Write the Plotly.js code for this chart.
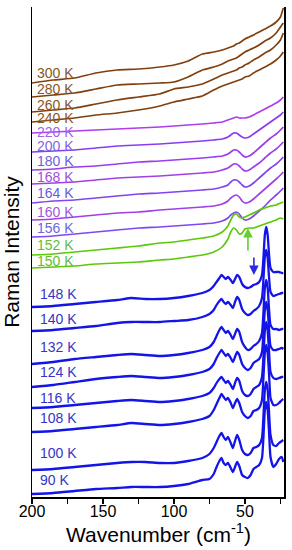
<!DOCTYPE html>
<html><head><meta charset="utf-8">
<script src="https://cdn.plot.ly/plotly-3.0.1.min.js"></script>
<style>html,body{margin:0;padding:0;background:#fff}#chart{width:292px;height:550px}</style>
</head><body><div id="chart"></div>
<script>
// ---------- DATA ----------
const waveBroad = [200,185,170,155,140,125,110,100,90,80,72,66,62,60,58,56,54,52,50,47,44,40,36,32,28,25,23];
const waveBlue = [200,185,170,155,140,130,120,110,100,90,80,75,72,70,68,66.5,65,63.5,62,60,58.5,57,55.5,54,52,50,48,46,44,42,40,38,37,36,35,34,33,32,30,28,26,24,23];
const temps = ['300 K','280 K','260 K','240 K','220 K','200 K','180 K','168 K','164 K','160 K','156 K','152 K','150 K','148 K','140 K','132 K','124 K','116 K','108 K','100 K','90 K'];

const i300 = [414,417,419,424,427,428,430,432,436,443,445,447,449,450,451,453,454,456,458,460,462,465,468,471,475,480,489];
const i280 = [400,402,404,408,412,413,414,415,420,427,430,433,436,437,438,439,441,443,445,447,449,452,456,459,464,470,474];
const i260 = [385,387,389,393,397,400,403,408,410,413,418,422,424,425,426,427,429,430,432,434,437,440,444,447,452,457,464];
const i240 = [375,377,379,382,384,387,391,395,398,401,407,411,413,414,415,416,417,418,420,421,424,427,430,433,437,441,445];
const i220 = [364,365,366,367,368,369,370,371,372,373,374,375,377,378,379,380,379,379,379,380,382,385,388,391,394,397,400];
const i200 = [345,346,347,349,351,352,353,354,355,356,357,358,360,362,364,364,362,360,359,360,363,367,371,375,379,382,385];
const i180 = [327,328,330,331,333,335,336,337,338,339,340,341,343,345,347,347,345,342,340,341,344,349,354,359,363,367,370];
const i168 = [313,314,315,317,319,320,321,322,323,324,325,327,329,331,333,333,331,328,326,327,330,334,339,344,348,352,355];
const i164 = [294,296,297,299,301,303,304,305,306,307,308,310,312,315,317,317,315,312,310,311,314,319,324,329,333,337,340];
const i160 = [277,278,280,282,284,285,287,288,289,290,291,293,296,299,301,302,300,296,294,295,298,303,308,313,318,322,325];
const i156 = [260,261,263,265,267,269,270,271,272,273,274,276,279,282,284,285,283,279,277,278,281,286,291,297,302,306,309];
const i152 = [242,243,245,247,249,251,254,255,257,259,261,265,271,277,282,283,280,279,280,282,284,287,289,291,292,294,295];
const i150 = [229,230,231,233,234,235,237,238,240,242,245,250,258,265,269,267,263,264,268,269,269,271,273,275,277,279,278];

const i148 = [190,191,193,195,197,199,198,198,199,201,204,207,211,215,219,222,220,218,220,217,214,218,222,220,213,210,209,210,212,213,215,222,239,262,270,262,242,229,225,225,225,224,224];
const i140 = [166,167,169,171,174,175,175,175,176,177,180,183,187,192,196,198,195,193,195,192,189,195,200,197,188,184,182,183,186,188,191,199,217,240,247,239,219,205,201,202,203,204,204];
const i132 = [133,135,138,140,142,143,142,141,142,144,147,150,155,161,167,170,167,164,166,162,158,163,168,165,155,150,147,148,151,153,156,164,184,209,217,209,187,172,168,168,167,168,168];
const i124 = [110,112,115,118,120,121,120,119,120,122,125,128,133,139,144,147,144,141,143,139,135,140,145,142,133,129,127,129,134,136,138,145,164,187,195,187,167,151,147,147,148,149,148];
const i116 = [89,90,92,94,96,97,96,95,96,98,101,104,109,114,118,120,117,114,116,112,108,114,119,116,106,102,101,103,108,110,112,120,140,166,175,166,145,125,119,118,119,120,120];
const i108 = [65,66,68,70,72,74,73,72,73,75,78,81,87,93,99,103,100,97,99,94,89,94,98,94,85,81,79,81,86,87,89,97,119,144,152,144,122,99,92,92,94,97,98];
const i100 = [27,28,30,32,34,35,35,34,34,36,39,43,49,55,61,64,60,57,60,54,49,56,62,57,47,43,42,44,49,50,52,59,80,107,115,107,84,62,52,51,54,56,57];
const i90  = [3,4,6,8,9,10,10,10,11,13,17,18,23,30,36,39,34,32,34,29,25,30,35,31,22,20,19,22,28,30,32,39,59,87,95,87,64,40,30,33,38,40,35];

// ---------- STYLE / PLACEMENT ----------
const curves = [i300,i280,i260,i240,i220,i200,i180,i168,i164,i160,i156,i152,i150,i148,i140,i132,i124,i116,i108,i100,i90];
const lineColor = ['#80400f','#80400f','#80400f','#80400f',
  '#b03cec','#8a3cf4','#9a3cf0','#a040e8','#8045f0','#a040e8','#8048f0',
  '#5cc80a','#5cc80a',
  '#1414e8','#1414e8','#1414e8','#1414e8','#1414e8','#1414e8','#1414e8','#1414e8'];
const labelColor = ['#8a5522','#8a5522','#8a5522','#8a5522',
  '#a064e8','#8064e0','#7060d8','#a050d8','#6a5cd8','#a058d8','#6a68d8',
  '#66bb33','#66bb33',
  '#3535c8','#3535c8','#3535c8','#3535c8','#3535c8','#3535c8','#3535c8','#3535c8'];
const labelY = [424,408,392,379,365,351,336,320,304,285,269,252,236,203,178,150,125,99,79,44,17];

const traces = curves.map((c, k) => ({
  type: 'scatter', mode: 'lines',
  x: c.length === waveBlue.length ? waveBlue : waveBroad,
  y: c, name: temps[k], showlegend: false, hoverinfo: 'skip',
  line: {color: lineColor[k], width: k >= 13 ? 2.3 : 1.7, shape: 'spline', smoothing: 0.5}
}));

const annotations = temps.map((t, k) => ({
  xref: 'x', yref: 'y', x: k >= 13 ? 195.5 : 198, y: labelY[k],
  xanchor: 'left', yanchor: 'middle', text: t, showarrow: false,
  font: {family: 'Arial, Liberation Sans, sans-serif', size: 14, color: labelColor[k]}
}));
annotations.push({xref:'x', yref:'y', x: 47.9, y: 269, axref:'x', ayref:'y', ax: 47.9, ay: 238,
  text: ' ', showarrow: true, arrowhead: 2, arrowsize: 1.2, arrowwidth: 1.6, arrowcolor: '#66cc33'});
annotations.push({xref:'x', yref:'y', x: 43.7, y: 222, axref:'x', ayref:'y', ax: 43.7, ay: 248,
  text: ' ', showarrow: true, arrowhead: 2, arrowsize: 1.2, arrowwidth: 1.6, arrowcolor: '#2a2ae0'});
// x-axis title placed as paper annotation for exact vertical position
annotations.push({xref:'paper', yref:'paper', x: 0.5, y: -0.074, xanchor:'center', yanchor:'middle',
  text: 'Wavenumber (cm<sup>-1</sup>)', showarrow: false,
  font: {family: 'Arial, Liberation Sans, sans-serif', size: 21, color: '#000'}});

const tickv = [200,175,150,125,100,75,50,25];
const tickt = ['200','','150','','100','','50',''];

const layout = {
  width: 292, height: 550,
  margin: {l: 32, r: 8, t: 7, b: 53},
  paper_bgcolor: '#fff', plot_bgcolor: '#fff',
  font: {family: 'Arial, Liberation Sans, sans-serif', color: '#000'},
  showlegend: false,
  xaxis: {
    range: [200, 22.5], tickvals: tickv, ticktext: tickt,
    ticks: 'outside', ticklen: 5, tickwidth: 1.5, tickcolor: '#000',
    ticklabelstandoff: -6,
    showline: true, linewidth: 1.5, linecolor: '#000',
    showgrid: false, zeroline: false, automargin: false,
    tickfont: {size: 16, color: '#000'}
  },
  xaxis2: {
    overlaying: 'x', matches: 'x', side: 'top', anchor: 'y',
    tickvals: tickv, showticklabels: false,
    ticks: 'inside', ticklen: 7, tickwidth: 1.5, tickcolor: '#000',
    showline: true, linewidth: 1.5, linecolor: '#000',
    showgrid: false, zeroline: false, automargin: false
  },
  yaxis: {
    range: [0, 490], showticklabels: false, ticks: '',
    showline: true, mirror: true, linewidth: 1.5, linecolor: '#000',
    showgrid: false, zeroline: false, automargin: false,
    title: {text: 'Raman Intensity', font: {size: 21, color: '#000'}, standoff: 6}
  },
  annotations: annotations
};

Plotly.newPlot('chart', traces, layout, {staticPlot: true, displayModeBar: false});
</script>
</body></html>
